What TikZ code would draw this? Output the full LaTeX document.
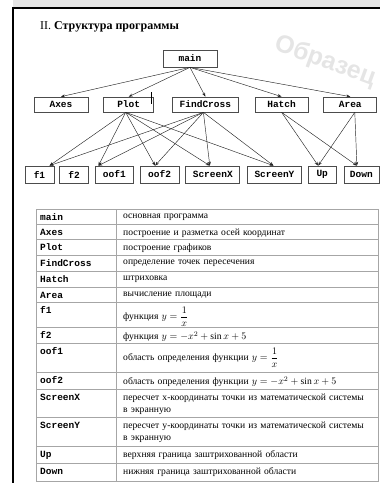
\documentclass[tikz,border=0pt]{standalone}
\usepackage{amsmath}
\usepackage{fontspec}
\setmainfont{Liberation Serif}
\setmonofont{Liberation Mono}
\newfontfamily\vodfont{Liberation Sans}
\usetikzlibrary{arrows.meta,positioning}
\tikzset{
  blok/.style={draw=black!70,line width=0.7pt,fill=white,inner sep=0pt,minimum height=15pt,
               font=\ttfamily\bfseries\fontsize{9.5}{11}\selectfont},
  nizblok/.style={blok,minimum height=17pt},
  strelka/.style={-{Stealth[length=4pt,width=3pt]},line width=0.45pt,black!85},
  imya/.style={anchor=base west,inner sep=0pt,font=\ttfamily\bfseries\fontsize{9.5}{12}\selectfont},
  opis/.style={anchor=north west,inner sep=0pt,align=left,text width=254pt,
               font=\fontsize{9.6}{12}\selectfont},
  setka/.style={draw=black!35,line width=0.5pt},
}

\begin{document}
\begin{tikzpicture}[x=1pt,y=-1pt]
  \useasboundingbox (0,0) rectangle (380,483);
  % list frame
  \fill[black!10] (13,0) rectangle (380,7);
  \draw[line width=2pt] (13,483) -- (13,8) -- (380,8);
  \node[rotate=-20,anchor=west,text=black!10,font=\vodfont\bfseries\fontsize{25}{28}\selectfont]
    (vodznak) at (272,42) {Образец};
  \node[anchor=base west,inner sep=0pt,font=\fontsize{12}{14}\selectfont] (zagolovok) at (40,29)
    {II. \textbf{Структура программы}};

  % schema
  \node[blok,minimum width=54pt,minimum height=17pt] (main) at (190,58.5) {main};
  \node[blok,minimum width=54pt] (axes) at (61,104.5) {Axes};
  \node[blok,minimum width=50pt,right=15pt of axes] (plot) {Plot};
  \node[blok,minimum width=66pt,right=18pt of plot] (findcross) {FindCross};
  \node[blok,minimum width=53pt,right=16pt of findcross] (hatch) {Hatch};
  \node[blok,minimum width=53pt,right=15pt of hatch] (area) {Area};

  \node[nizblok,minimum width=29pt] (f1) at (39.5,174.5) {f1};
  \node[nizblok,minimum width=29pt,right=5pt of f1] (f2) {f2};
  \node[nizblok,minimum width=38pt,right=6pt of f2] (oof1) {oof1};
  \node[nizblok,minimum width=39pt,right=6pt of oof1] (oof2) {oof2};
  \node[nizblok,minimum width=54pt,right=6pt of oof2] (screenx) {ScreenX};
  \node[nizblok,minimum width=54pt,right=7pt of screenx] (screeny) {ScreenY};
  \node[nizblok,minimum width=28pt,right=6pt of screeny] (up) {Up};
  \node[nizblok,minimum width=35pt,right=7pt of up] (down) {Down};

  \foreach \cel in {axes,plot,findcross,hatch,area}
    \draw[strelka] (main.south) -- (\cel.north);
  \foreach \cel/\sdv in {f1/10pt,oof1/-16pt,oof2/-4.5pt,screenx/-3pt,screeny/-1pt} {
    \draw[strelka] ([xshift=-3pt]plot.south) -- ([xshift=\sdv]\cel.north);
    \draw[strelka] ([xshift=-2pt]findcross.south) -- ([xshift=\sdv]\cel.north);
  }
  \draw[strelka] (hatch.south) -- ([xshift=-4pt]up.north);
  \draw[strelka] (hatch.south) -- ([xshift=-4.5pt]down.north);
  \draw[strelka] ([xshift=4.5pt]area.south) -- ([xshift=-4pt]up.north);
  \draw[strelka] ([xshift=4.5pt]area.south) -- ([xshift=-4.5pt]down.north);
  \draw[line width=0.7pt] (151.5,92) -- (151.5,104);

  % table
  \draw[setka] (36,209) rectangle (378,481) (116,209) -- (116,481);
  \foreach \ry in {224,239,255,271,287,302,327,343,372,389,417,446,463}
    \draw[setka] (36,\ry) -- (378,\ry);
  \foreach \nm/\txt/\ry in {
      main/{основная программа}/209,
      Axes/{построение и разметка осей координат}/224,
      Plot/{построение графиков}/239,
      FindCross/{определение точек пересечения}/255,
      Hatch/{штриховка}/271,
      Area/{вычисление площади}/287,
      f1/{функция $y=\dfrac{1}{x}$}/302,
      f2/{функция $y=-x^2+\sin x+5$}/327,
      oof1/{область определения функции $y=\dfrac{1}{x}$}/343,
      oof2/{область определения функции $y=-x^2+\sin x+5$}/372,
      ScreenX/{пересчет x-координаты точки из математической системы\\в экранную}/389,
      ScreenY/{пересчет y-координаты точки из математической системы\\в экранную}/417,
      Up/{верхняя граница заштрихованной области}/446,
      Down/{нижняя граница заштрихованной области}/463} {
    \node[imya] (t-\nm) at (40,\ry+11) {\nm};
    \node[opis] (o-\nm) at (123,\ry+4.5) {\txt};
  }
\end{tikzpicture}
\end{document}
